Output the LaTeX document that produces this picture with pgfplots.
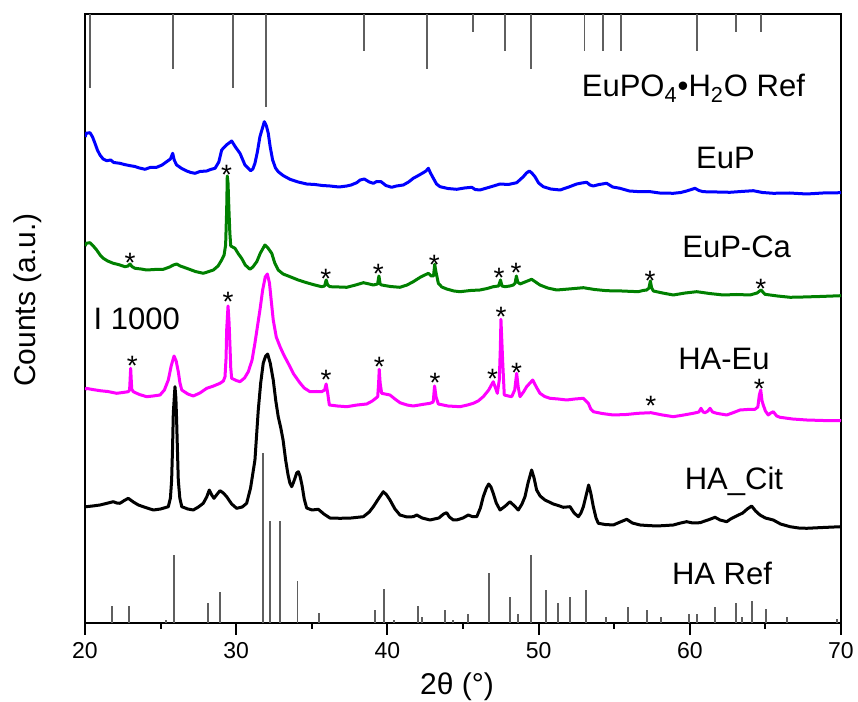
\documentclass[border=0pt]{standalone}
\usepackage{pgfplots}
\pgfplotsset{compat=1.18}
\usepackage{fontspec}
\setmainfont{Liberation Sans}
\definecolor{cblue}{RGB}{0,0,255}
\definecolor{cgreen}{RGB}{0,128,0}
\definecolor{cmag}{RGB}{255,0,255}
\definecolor{cstick}{RGB}{95,95,95}
\begin{document}
\begin{tikzpicture}
\begin{axis}[
  scale only axis, width=378pt, height=304.5pt,
  xmin=20, xmax=70, ymin=0, ymax=609,
  xtick={20,30,40,50,60,70}, minor x tick num=1,
  xtick pos=left, tick align=outside,
  major tick length=6pt, minor tick length=3pt,
  every tick/.style={line width=1pt, black},
  ytick=\empty,
  extra y ticks={117}, extra y tick labels={},
  extra y tick style={tick align=inside, ytick pos=left, major tick length=2.5pt},
  axis line style={line width=1pt},
  /pgf/number format/assume math mode=true,
  xticklabel style={font=\fontsize{11.5}{13}\selectfont},
  xlabel={2θ (°)}, ylabel={Counts (a.u.)},
  xlabel style={font=\fontsize{15}{18}\selectfont, at={(axis description cs:0.492,-0.105)}, anchor=center},
  ylabel style={font=\fontsize{15}{18}\selectfont, at={(axis description cs:-0.0754,0.53)}, anchor=center, rotate=0},
  every axis plot/.append style={line join=round},
]
% EuPO4.H2O reference sticks (hanging from top)
\addplot[cstick, line width=0.9pt, unbounded coords=jump] coordinates {
(20.33,609)(20.33,535)(20.33,nan)
(25.80,609)(25.80,554)(25.80,nan)
(29.77,609)(29.77,535)(29.77,nan)
(31.95,609)(31.95,516)(31.95,nan)
(38.45,609)(38.45,572)(38.45,nan)
(42.64,609)(42.64,554)(42.64,nan)
(45.64,609)(45.64,591)(45.64,nan)
(47.80,609)(47.80,572)(47.80,nan)
(49.48,609)(49.48,554)(49.48,nan)
(53.03,609)(53.03,572)(53.03,nan)
(54.28,609)(54.28,572)(54.28,nan)
(55.43,609)(55.43,572)(55.43,nan)
(60.46,609)(60.46,572)(60.46,nan)
(63.03,609)(63.03,591)(63.03,nan)
(64.71,609)(64.71,591)
};
% HA reference sticks
\addplot[ycomb, cstick, line width=0.9pt, mark=none] coordinates {
(21.81,17)(22.91,17)(25.36,3)(25.89,68)(28.13,20)(28.95,31)
(31.75,170)(32.21,102)(32.92,102)(34.06,42)(35.48,10)
(39.20,13)(39.80,34)(40.45,3)(42.04,17)(42.30,6)(43.82,13)(44.36,3)
(45.31,9)(46.74,50)(48.11,26)(48.64,9)(49.50,68)(50.49,33)(51.28,20)
(52.10,26)(53.16,33)(54.46,6)(55.93,16)(57.15,13)(58.10,6)(59.97,9)
(60.48,9)(61.69,16)(63.03,20)(63.47,6)(64.11,22)(65.06,14)(66.41,6)(69.71,4)
};
% EuP
\addplot[cblue, line width=1.5pt] coordinates {
(20.02,486)(20.07,489.7)(20.33,490.3)(20.50,486)(20.66,479.7)(20.82,473)(20.99,468)(21.20,464)(21.44,462.3)(21.7,463)(21.9,460.5)(22.31,459.7)
(22.6,458.5)(22.98,457.3)(23.3,456.5)(23.6,455)(23.97,453.7)(24.3,455.5)(24.74,455.7)(25.1,458)(25.40,461.3)(25.65,464)(25.80,469.7)(25.9,463)(26.06,458)
(26.4,454.5)(26.73,452)(27.0,450.5)(27.28,449.7)(27.6,451.5)(28.05,452)(28.3,453.5)(28.60,454.7)(28.85,461)(29.04,473)(29.35,478)(29.70,482)(29.95,476)(30.25,469.7)
(30.58,458)(30.96,452.3)(31.10,454)(31.24,459.7)(31.40,471)(31.57,486.3)(31.86,501.3)(32.00,497)(32.12,489.7)(32.25,476)(32.41,463)(32.6,455)(32.78,451.3)
(33.1,447.5)(33.56,443.7)(34.1,441)(34.66,439)(35.2,438.5)(35.7,437.5)(36.20,437)(36.8,436)(37.31,437)(37.6,438)(37.97,440.3)(38.2,443)(38.47,444)(38.8,441)(39.07,439.7)
(39.3,441.5)(39.58,441.3)(39.9,437.5)(40.28,435.7)(40.6,437)(41.05,438)(41.4,441)(41.71,444.7)(42.05,447.5)(42.37,450.3)(42.55,452)(42.71,454.7)(42.85,450)(43.04,444.7)
(43.25,439)(43.48,436.3)(44.0,434.5)(44.58,433.7)(45.1,435)(45.58,435.7)(45.8,433.5)(46.12,433)(46.8,436)(47.45,439)(48.0,438.5)(48.55,440.3)(48.75,443)(48.99,446.3)
(49.2,450)(49.39,452)(49.55,450)(49.76,446.3)(50.0,440)(50.31,436.3)(50.8,434)(51.42,433)(52.0,436)(52.52,439)(52.85,440)(53.18,440.7)(53.40,438)(53.62,437)(54.0,438.5)
(54.50,439.7)(54.9,436)(55.38,434.7)(56.0,432)(56.71,431.3)(57.3,431.5)(58.0,430)(58.91,429.7)(59.4,430.5)(59.79,432)(60.1,433.5)(60.34,434.7)(60.6,432.5)(60.89,431.3)
(61.8,431)(62.66,430.7)(63.4,431.5)(64.20,432.3)(64.8,430.5)(65.52,429.7)(66.6,430)(67.73,429)(68.8,430)(70.0,430.3)
};
% EuP-Ca
\addplot[cgreen, line width=1.5pt] coordinates {
(20.02,377)(20.07,379.7)(20.33,380.3)(20.55,377)(20.77,373)(21.0,368)(21.21,364.7)(21.5,362)(21.87,359.7)(22.2,358.5)(22.65,356.3)(22.85,357)(22.98,359)(23.1,356.5)(23.31,354.7)
(23.7,354)(24.08,353)(24.6,353.5)(25.18,353.7)(25.6,356)(25.85,358)(26.06,359)(26.3,357)(26.73,354.7)(27.3,351.5)(27.82,349.7)(28.2,351.5)(28.49,353)(28.8,357)(29.04,363)
(29.20,368)(29.30,378)(29.37,413)(29.41,447)(29.46,440)(29.52,413)(29.58,390)(29.64,377)(29.92,374.7)(30.15,369)(30.36,364.7)(30.6,358)(30.91,353.7)(31.1,356)(31.36,361.3)
(31.6,370)(31.90,378)(32.10,375)(32.35,369.7)(32.55,360)(32.78,353)(33.1,349)(33.56,346.3)(34.1,343)(34.66,340.3)(35.2,338)(35.65,336.3)(35.85,337)(35.95,343)(36.05,338)(36.20,336.3)
(36.8,336)(37.31,335.7)(37.9,338)(38.41,340.3)(38.8,339)(39.07,338)(39.35,339)(39.44,347)(39.52,339)(39.62,338)(40.2,336.5)(40.83,335.7)(41.3,338)(41.71,341.3)(42.2,346)(42.71,349.7)
(42.9,347)(43.05,347)(43.13,358.7)(43.20,352)(43.37,339.7)(43.6,336)(43.92,334)(44.4,332)(44.80,331.3)(45.5,332.5)(46.12,333)(46.6,334.5)(47.00,336.3)(47.35,337)(47.48,343)(47.58,337)
(47.78,336.3)(48.1,337)(48.33,338)(48.45,340)(48.53,347)(48.62,341)(48.77,339)(49.1,341)(49.54,343.7)(49.8,341)(50.09,338)(50.6,335)(51.20,333)(52.0,334)(52.96,335.3)(53.7,333.5)
(54.50,332.3)(55.5,332)(56.59,331.3)(56.9,332.5)(57.15,333)(57.30,335)(57.39,342)(57.48,335)(57.59,332)(58.2,330)(58.91,328)(59.7,330)(60.46,331.3)(61.3,329.5)(62.22,328)(63.1,328.5)
(63.98,328)(64.45,330)(64.71,333)(64.97,328.7)(65.8,327)(66.63,325.7)(67.5,326)(68.6,326.5)(70.0,327.3)
};
% HA-Eu
\addplot[cmag, line width=1.5pt] coordinates {
(20.02,233)(20.07,234.7)(20.5,233.5)(20.99,232.3)(21.5,231.5)(22.10,229.7)(22.5,230.5)(22.86,231.3)(22.95,233)(23.02,254.7)(23.09,234)(23.19,231.3)(23.6,228.5)(24.08,226.3)
(24.5,227)(24.96,228)(25.25,233)(25.51,243)(25.7,257)(25.89,267)(26.03,262)(26.17,251.3)(26.28,240)(26.40,233)(26.8,229)(27.16,227)(27.6,230)(28.05,234.7)(28.5,237)(28.93,239.7)
(29.15,242)(29.26,246.3)(29.33,265)(29.37,293)(29.46,317)(29.53,300)(29.59,276.3)(29.64,255)(29.70,244.7)(30.0,242.5)(30.25,241.3)(30.55,245)(30.80,251.3)(31.05,263)(31.24,280)
(31.40,296)(31.57,313)(31.75,333)(31.92,346)(32.06,349)(32.20,340)(32.32,322)(32.45,303)(32.65,286)(32.90,276.3)(33.15,268)(33.43,260)(33.8,249)(34.22,240)(34.5,235)(34.88,231.3)
(35.3,231.5)(35.65,231.3)(35.85,233)(35.95,239)(36.05,230)(36.16,218)(36.7,217)(37.31,216.3)(38.0,218)(38.63,219)(39.0,222)(39.36,226.3)(39.42,240)(39.46,253.7)(39.52,240)(39.62,229.7)
(40.17,228)(40.5,224)(40.83,220.3)(41.3,218)(41.71,217)(42.3,218.5)(42.82,219.7)(43.03,221)(43.12,237)(43.22,226)(43.37,219)(44.0,217)(44.80,216.3)(45.3,218)(45.68,219.7)(46.0,222)
(46.34,226.3)(46.7,233)(47.00,241.3)(47.15,235)(47.27,229.7)(47.40,243)(47.47,275)(47.51,303.7)(47.56,285)(47.63,259.7)(47.73,228)(48.0,227)(48.22,226.3)(48.42,233)(48.55,249.7)(48.65,236)
(48.77,226.3)(49.0,231)(49.21,236.3)(49.61,243)(49.85,236)(50.09,229.7)(50.4,226.5)(50.75,224.7)(51.3,224)(51.86,223)(52.4,224)(52.96,224.7)(53.29,219.7)(53.45,214)(53.62,211.3)
(54.2,209.5)(54.94,208)(55.8,208.5)(56.59,209.7)(57.0,210)(57.43,210.3)(58.2,208)(58.91,206.3)(59.6,208)(60.23,209.7)(60.60,211)(60.74,214.7)(60.88,211)(61.01,210.3)(61.20,212)
(61.34,214.7)(61.5,211)(61.78,209.7)(62.44,208)(62.9,210.5)(63.32,213)(63.8,213.5)(64.31,213.7)(64.50,216)(64.60,228)(64.69,233)(64.78,222)(64.86,218)(65.0,212)(65.19,208)
(65.35,210)(65.52,211.3)(65.75,207)(65.97,205.7)(66.8,204)(67.73,203)(68.8,202.5)(70.0,202.3)
};
% HA_Cit
\addplot[black, line width=1.5pt] coordinates {
(20.02,116)(20.07,116.3)(20.5,117)(20.99,118)(21.4,119.5)(21.87,121.3)(22.1,120)(22.31,119.7)(22.6,122.5)(22.86,124.7)(23.2,121)(23.53,118)(24.0,115.5)(24.52,113)(25.0,114)
(25.51,116.3)(25.65,125)(25.73,143)(25.79,175)(25.84,209.7)(25.95,236.3)(26.01,225)(26.06,203)(26.11,175)(26.17,143)(26.27,125)(26.40,116.3)(26.8,114)(27.16,113)(27.5,116)
(27.82,119.7)(28.05,126)(28.22,133)(28.38,128)(28.53,124.7)(28.75,129)(28.93,132.3)(29.15,130)(29.37,126.3)(29.7,119)(30.03,114.7)(30.4,116)(30.69,119.7)(30.95,135)(31.24,163)
(31.46,213)(31.62,240)(31.79,260)(31.95,267)(32.08,269)(32.25,260)(32.45,243)(32.62,222)(32.78,206.3)(32.95,195)(33.10,183)(33.27,163)(33.43,148)(33.55,140)(33.67,136.3)(33.80,141)
(33.89,145)(34.00,150)(34.11,151.3)(34.22,147)(34.35,138)(34.5,124)(34.66,115)(35.01,113)(35.43,113.7)(35.8,109)(36.20,105)(36.87,104.7)(37.6,105)(38.41,106.3)(38.8,111)(39.07,116.3)
(39.4,124)(39.73,131.3)(39.95,128)(40.17,123)(40.5,114)(40.83,108)(41.3,106)(41.71,106.3)(41.94,108)(42.3,105)(42.82,103)(43.4,105)(43.72,109)(43.92,110.3)(44.1,106)(44.36,103)(44.58,103)
(45.0,105)(45.35,108)(45.6,106.5)(45.91,106.3)(46.15,115)(46.34,126.3)(46.55,135)(46.70,139)(46.85,136)(47.00,129.7)(47.2,120)(47.45,113)(47.8,117)(48.11,121.3)(48.4,117)(48.66,113)
(48.9,119)(49.10,126.3)(49.30,140)(49.54,153)(49.70,145)(49.87,133)(50.1,127)(50.42,123)(50.7,121)(50.97,119)(51.3,117.5)(51.63,115.7)(52.08,116.3)(52.35,110)(52.63,106.3)(52.80,110)
(52.96,116.3)(53.15,128)(53.31,138)(53.45,130)(53.62,116.3)(53.8,105)(53.95,99.7)(54.4,98.5)(54.94,98)(55.4,101)(55.83,103.7)(56.2,100)(56.71,98)(57.2,97.5)(57.81,97)(58.4,97.5)
(58.91,98)(59.4,100)(59.79,101.3)(60.2,100)(60.67,100.3)(61.2,103)(61.67,105.7)(62.0,103)(62.44,101.3)(62.7,104)(62.99,106.3)(63.5,110)(63.8,114)(64.09,117)(64.35,112)(64.64,108)
(65.0,105)(65.52,103)(66.0,99)(66.63,96.3)(67.2,95)(67.73,94.7)(68.8,95.5)(70.0,96.3)
};
% asterisks
\addplot[only marks, mark=text, text mark={*}, text mark as node=true, text mark style={font=\fontsize{14}{16}\selectfont, inner sep=0pt, anchor=center}] coordinates {
(22.98,360.3)(29.37,447.7)(35.92,343.7)(39.40,348.7)(43.10,357.7)(47.38,345.3)(48.51,349.7)(57.37,342)(64.69,333.7)
(23.13,257)(29.46,321)(35.94,242.7)(39.46,256)(43.15,239.7)(46.96,243.7)(47.51,306.3)(48.55,250.3)(57.43,217)(64.60,233.7)
};
\node[anchor=base, font=\fontsize{15.5}{18}\selectfont] at (axis cs:60.24,526) {EuPO\textsubscript{4}•H\textsubscript{2}O Ref};
\node[anchor=base, font=\fontsize{15.5}{18}\selectfont] at (axis cs:62.36,454.7) {EuP};
\node[anchor=base, font=\fontsize{15.5}{18}\selectfont] at (axis cs:63.10,365) {EuP-Ca};
\node[anchor=base, font=\fontsize{15.5}{18}\selectfont] at (axis cs:62.26,253) {HA-Eu};
\node[anchor=base, font=\fontsize{15.5}{18}\selectfont] at (axis cs:62.92,133) {HA\_Cit};
\node[anchor=base, font=\fontsize{15.5}{18}\selectfont] at (axis cs:62.13,39) {HA Ref};
\node[anchor=base west, inner sep=0pt, font=\fontsize{15.5}{18}\selectfont] at (axis cs:20.55,293) {I 1000};
\end{axis}
\pgfresetboundingbox
\path (current axis.south west) ++(-42.5pt,-39.5pt) rectangle ++(429pt,351pt);
\end{tikzpicture}
\end{document}
